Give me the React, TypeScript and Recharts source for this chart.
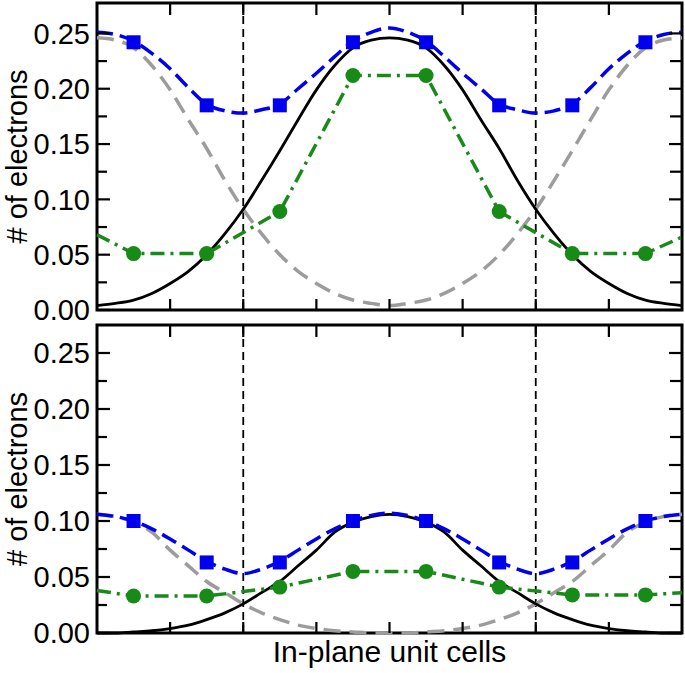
import React from "react";
import { LineChart, Line, XAxis, YAxis, ReferenceLine, ReferenceArea } from "recharts";

// sample positions for the smooth curves (in-plane unit cells)
const curveX = [
  0, 0.25, 0.5, 0.75, 1, 1.25, 1.5, 1.75, 2, 2.25, 2.5, 2.75, 3, 3.25, 3.5, 3.75, 4,
  4.25, 4.5, 4.75, 5, 5.25, 5.5, 5.75, 6, 6.25, 6.5, 6.75, 7, 7.25, 7.5, 7.75, 8,
];

// upper panel
const topBlack = [
  0.004, 0.006, 0.009, 0.015, 0.024, 0.035, 0.05, 0.069, 0.091, 0.117, 0.144, 0.172, 0.199, 0.221, 0.237, 0.244, 0.246,
  0.244, 0.237, 0.221, 0.199, 0.172, 0.146, 0.117, 0.091, 0.069, 0.05, 0.035, 0.024, 0.015, 0.009, 0.006, 0.004,
];
const topGray = [
  0.246, 0.244, 0.237, 0.221, 0.199, 0.172, 0.146, 0.117, 0.091, 0.069, 0.05, 0.035, 0.024, 0.015, 0.009, 0.006, 0.004,
  0.006, 0.009, 0.015, 0.024, 0.035, 0.05, 0.069, 0.091, 0.117, 0.144, 0.172, 0.199, 0.221, 0.237, 0.244, 0.246,
];
const topBlue = [
  0.251, 0.249, 0.243, 0.232, 0.218, 0.201, 0.186, 0.18, 0.178, 0.181, 0.186, 0.2, 0.214, 0.229, 0.243, 0.251, 0.255,
  0.251, 0.243, 0.229, 0.214, 0.2, 0.186, 0.181, 0.178, 0.18, 0.186, 0.201, 0.218, 0.232, 0.243, 0.249, 0.251,
];

// lower panel
const botBlack = [
  0.0, 0.0, 0.001, 0.002, 0.004, 0.007, 0.012, 0.018, 0.026, 0.036, 0.046, 0.06, 0.074, 0.09, 0.099, 0.104, 0.106,
  0.104, 0.099, 0.09, 0.074, 0.06, 0.046, 0.036, 0.026, 0.018, 0.012, 0.007, 0.004, 0.002, 0.001, 0.0, 0.0,
];
const botGray = [
  0.106, 0.104, 0.099, 0.09, 0.074, 0.06, 0.046, 0.036, 0.026, 0.018, 0.012, 0.007, 0.004, 0.002, 0.001, 0.0, 0.0,
  0.0, 0.001, 0.002, 0.004, 0.007, 0.012, 0.018, 0.026, 0.036, 0.046, 0.06, 0.074, 0.09, 0.099, 0.104, 0.106,
];
const botBlue = [
  0.106, 0.104, 0.1, 0.093, 0.084, 0.074, 0.064, 0.057, 0.053, 0.057, 0.064, 0.074, 0.084, 0.093, 0.1, 0.105, 0.107,
  0.105, 0.1, 0.093, 0.084, 0.074, 0.064, 0.057, 0.053, 0.057, 0.064, 0.074, 0.084, 0.093, 0.1, 0.104, 0.106,
];

// markers sit at the cell centres
const markX = [0.5, 1.5, 2.5, 3.5, 4.5, 5.5, 6.5, 7.5];
const topSquares = [0.242, 0.185, 0.185, 0.242, 0.242, 0.185, 0.185, 0.242];
const topCircles = [0.051, 0.051, 0.089, 0.212, 0.212, 0.089, 0.051, 0.051];
const botSquares = [0.1, 0.063, 0.063, 0.1, 0.1, 0.063, 0.063, 0.1];
const botCircles = [0.033, 0.033, 0.041, 0.055, 0.055, 0.041, 0.034, 0.034];

// green dash-dot line runs out to the frame edges
const greenX = [0, 0.5, 1.5, 2.5, 3.5, 4.5, 5.5, 6.5, 7.5, 8];
const topGreen = [0.068, 0.051, 0.051, 0.089, 0.212, 0.212, 0.089, 0.051, 0.051, 0.066];
const botGreen = [0.038, 0.033, 0.033, 0.041, 0.055, 0.055, 0.041, 0.034, 0.034, 0.036];

const xTicks = [1, 2, 3, 4, 5, 6, 7];
const yMajor = [0, 0.05, 0.1, 0.15, 0.2, 0.25];
const yMinor = [0.025, 0.075, 0.125, 0.175, 0.225];
const boundaries = [2, 6];

const FONT = '"Liberation Sans", Arial, Helvetica, sans-serif';
const BLUE = "#0000ee";
const GREEN = "#188a18";
const GRAY = "#9c9c9c";

const X_MAX = 8;
const PLOT_W = 585; // px between left and right frame
const blank = () => "";

const zip = (xs: number[], ys: number[]) => xs.map((x, i) => ({ x, y: ys[i] }));

function Square(props: any) {
  const { cx, cy, index } = props;
  if (cx == null || cy == null) return <g key={index} />;
  return <rect key={index} x={cx - 7} y={cy - 7} width={14} height={14} fill={BLUE} />;
}

function Dot(props: any) {
  const { cx, cy, index } = props;
  if (cx == null || cy == null) return <g key={index} />;
  return <circle key={index} cx={cx} cy={cy} r={7.5} fill={GREEN} />;
}

type PanelProps = {
  black: number[];
  gray: number[];
  blue: number[];
  squares: number[];
  circles: number[];
  green: number[];
  height: number;
  yMax: number;
  top: number;
  bottomSpace: number;
  xLabel?: string;
};

function Panel({ black, gray, blue, squares, circles, green, height, yMax, top, bottomSpace, xLabel }: PanelProps) {
  // inward tick marks, lengths given in pixels and turned into data units
  const plotH = height - top - bottomSpace;
  const yPx = yMax / plotH;
  const xPx = X_MAX / PLOT_W;
  const segs: { x: number; y: number }[][] = [];
  xTicks.forEach((t) => {
    segs.push([{ x: t, y: 0 }, { x: t, y: 11 * yPx }]);
    segs.push([{ x: t, y: yMax }, { x: t, y: yMax - 12 * yPx }]);
  });
  yMajor.forEach((v) => {
    segs.push([{ x: 0, y: v }, { x: 13 * xPx, y: v }]);
    segs.push([{ x: X_MAX, y: v }, { x: X_MAX - 13 * xPx, y: v }]);
  });
  yMinor.forEach((v) => {
    segs.push([{ x: 0, y: v }, { x: 10 * xPx, y: v }]);
    segs.push([{ x: X_MAX, y: v }, { x: X_MAX - 12 * xPx, y: v }]);
  });

  return (
    <LineChart width={685} height={height} margin={{ top, right: 3, bottom: 0, left: 0 }}>
      <XAxis
        dataKey="x"
        type="number"
        domain={[0, X_MAX]}
        ticks={xTicks}
        height={bottomSpace}
        tickSize={0}
        tickFormatter={blank}
        axisLine={false}
        tickLine={false}
        label={
          xLabel
            ? {
                value: xLabel,
                position: "insideBottom",
                offset: 11,
                style: { fontSize: 30, fill: "#000", fontFamily: FONT },
              }
            : undefined
        }
      />
      <YAxis
        type="number"
        domain={[0, yMax]}
        ticks={yMajor}
        interval={0}
        width={97}
        tickSize={0}
        tickMargin={7}
        tickLine={false}
        axisLine={false}
        tickFormatter={(v: number) => v.toFixed(2)}
        tick={{ fontSize: 29, fill: "#000", fontFamily: FONT }}
        label={{
          value: "# of electrons",
          angle: -90,
          position: "insideLeft",
          offset: 17,
          style: { textAnchor: "middle", fontSize: 29, fill: "#000", fontFamily: FONT },
        }}
      />
      {boundaries.map((b) => (
        <ReferenceLine key={b} x={b} stroke="#000" strokeWidth={1.8} strokeDasharray="8 5" />
      ))}
      <Line
        data={zip(curveX, gray)}
        dataKey="y"
        type="monotone"
        stroke={GRAY}
        strokeWidth={3.5}
        strokeDasharray="17 9"
        dot={false}
        isAnimationActive={false}
      />
      <Line
        data={zip(curveX, black)}
        dataKey="y"
        type="monotone"
        stroke="#000"
        strokeWidth={2.8}
        dot={false}
        isAnimationActive={false}
      />
      <Line
        data={zip(greenX, green)}
        dataKey="y"
        type="linear"
        stroke={GREEN}
        strokeWidth={3.5}
        strokeDasharray="14 6 3 6"
        dot={false}
        isAnimationActive={false}
      />
      <Line
        data={zip(curveX, blue)}
        dataKey="y"
        type="monotone"
        stroke={BLUE}
        strokeWidth={3.5}
        strokeDasharray="16 7"
        dot={false}
        isAnimationActive={false}
      />
      <Line data={zip(markX, circles)} dataKey="y" stroke="none" dot={Dot} isAnimationActive={false} />
      <Line data={zip(markX, squares)} dataKey="y" stroke="none" dot={Square} isAnimationActive={false} />
      {segs.map((s, i) => (
        <ReferenceLine key={"t" + i} segment={s} stroke="#000" strokeWidth={2.2} ifOverflow="visible" />
      ))}
      {/* plot frame */}
      <ReferenceArea
        x1={0}
        x2={X_MAX}
        y1={0}
        y2={yMax}
        fill="none"
        fillOpacity={0}
        stroke="#000"
        strokeWidth={3}
        ifOverflow="visible"
      />
    </LineChart>
  );
}

export default function App() {
  return (
    <div
      style={{
        position: "absolute",
        left: 0,
        top: 0,
        width: 685,
        height: 673,
        background: "#fff",
        fontFamily: FONT,
      }}
    >
      <div style={{ position: "absolute", left: 0, top: 320 }}>
        <Panel
          black={botBlack}
          gray={botGray}
          blue={botBlue}
          squares={botSquares}
          circles={botCircles}
          green={botGreen}
          height={353}
          yMax={0.275}
          top={5}
          bottomSpace={40}
          xLabel="In-plane unit cells"
        />
      </div>
      <div style={{ position: "absolute", left: 0, top: 0 }}>
        <Panel
          black={topBlack}
          gray={topGray}
          blue={topBlue}
          squares={topSquares}
          circles={topCircles}
          green={topGreen}
          height={330}
          yMax={0.2775}
          top={3}
          bottomSpace={20}
        />
      </div>
    </div>
  );
}
